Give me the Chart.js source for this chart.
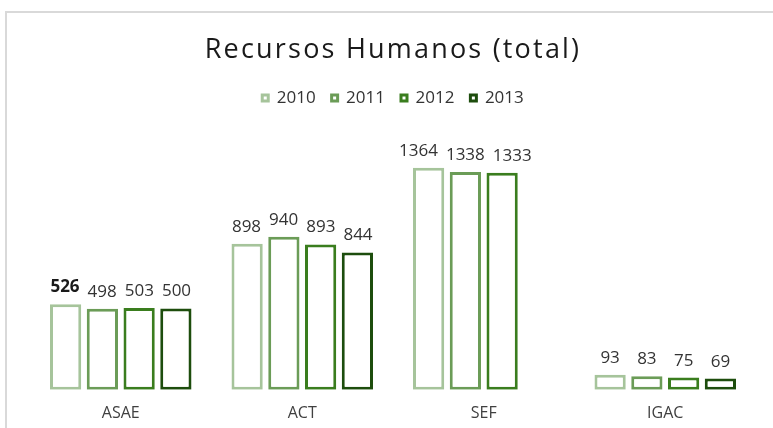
<!DOCTYPE html>
<html>
<head>
<meta charset="utf-8">
<script src="https://cdn.jsdelivr.net/npm/chart.js@4.4.0/dist/chart.umd.min.js"></script>
<style>
  html, body { margin: 0; padding: 0; background: #ffffff; }
  #wrap { position: relative; width: 773px; height: 428px; overflow: hidden; background: #fff; }
  #frame { position: absolute; left: 5px; top: 11px; width: 900px; height: 600px;
           border-left: 2px solid #d9d9d9; border-top: 2px solid #d9d9d9; }
  #c { position: absolute; left: 0; top: 0; }
</style>
</head>
<body>
<div id="wrap">
  <div id="frame"></div>
  <canvas id="c" width="773" height="428"></canvas>
</div>
<script>
const categories = ["ASAE", "ACT", "SEF", "IGAC"];
const seriesNames = ["2010", "2011", "2012", "2013"];
const values2010 = [526, 898, 1364, 93];
const values2011 = [498, 940, 1338, 83];
const values2012 = [503, 893, 1333, 75];
const values2013 = [500, 844, null, 69];
const seriesColors = ["#a6c49b", "#6b9c57", "#3a7d1e", "#1d4d0d"];
const boldLabel = { series: 0, category: 0 };

const allValues = [values2010, values2011, values2012, values2013];

const datasets = seriesNames.map((name, i) => ({
  label: name,
  data: allValues[i],
  backgroundColor: "#ffffff",
  borderColor: seriesColors[i],
  borderWidth: 3,
  borderSkipped: false,
  categoryPercentage: 0.81,
  barPercentage: 0.85
}));

const FONT = "'Open Sans', 'DejaVu Sans', sans-serif";
const LABEL_GAP = 8;

const valueLabels = {
  id: "valueLabels",
  afterDatasetsDraw(chart) {
    const ctx = chart.ctx;
    ctx.save();
    ctx.textAlign = "center";
    ctx.textBaseline = "alphabetic";
    const nCat = chart.data.labels.length;
    for (let c = 0; c < nCat; c++) {
      const items = [];
      chart.data.datasets.forEach((ds, di) => {
        const v = ds.data[c];
        if (v === null || v === undefined) return;
        const bar = chart.getDatasetMeta(di).data[c];
        const bold = (di === boldLabel.series && c === boldLabel.category);
        const font = (bold ? "bold " : "") + "17px " + FONT;
        ctx.font = font;
        const w = ctx.measureText(String(v)).width;
        items.push({ text: String(v), x: bar.x, y: bar.y, w, font, bold });
      });
      // spread overlapping labels symmetrically around the group centre
      let overlap = false;
      for (let i = 1; i < items.length; i++) {
        const need = (items[i - 1].w + items[i].w) / 2 + LABEL_GAP;
        if (items[i].x - items[i - 1].x < need) overlap = true;
      }
      if (overlap && items.length > 1) {
        const mid = (items[0].x + items[items.length - 1].x) / 2;
        const maxW = Math.max(...items.map(it => it.w));
        const step = maxW + LABEL_GAP;
        items.forEach((it, i) => { it.x = mid + (i - (items.length - 1) / 2) * step; });
      }
      items.forEach(it => {
        ctx.font = it.font;
        ctx.fillStyle = it.bold ? "#1a1a1a" : "#333333";
        ctx.fillText(it.text, it.x, it.y - 12);
      });
    }
    ctx.restore();
  }
};

const chart = new Chart(document.getElementById("c"), {
  type: "bar",
  data: { labels: categories, datasets: datasets },
  plugins: [valueLabels],
  options: {
    responsive: false,
    animation: false,
    layout: { padding: { left: 30, right: 17, top: 0, bottom: -1 } },
    plugins: {
      title: {
        display: true,
        text: "Recursos Humanos (total)",
        color: "#1a1a1a",
        font: { family: FONT, size: 27, weight: "normal" },
        padding: { top: 34, bottom: 7 }
      },
      legend: {
        display: true,
        position: "top",
        labels: {
          boxWidth: 6,
          boxHeight: 6,
          padding: 16,
          color: "#333333",
          font: { family: FONT, size: 17 }
        }
      },
      tooltip: { enabled: false }
    },
    scales: {
      x: {
        grid: { display: false },
        border: { display: false },
        ticks: {
          color: "#404040",
          font: { family: FONT, size: 16 },
          padding: 6
        }
      },
      y: {
        display: false,
        min: 0,
        max: 1680
      }
    }
  }
});

// Wider letter spacing for the title only (as in the original)
const origTitleDraw = chart.titleBlock.draw.bind(chart.titleBlock);
chart.titleBlock.draw = function () {
  const ctx = chart.ctx;
  const prev = ctx.letterSpacing;
  ctx.letterSpacing = "2.2px";
  origTitleDraw();
  ctx.letterSpacing = prev || "0px";
};
chart.draw();
</script>
</body>
</html>
